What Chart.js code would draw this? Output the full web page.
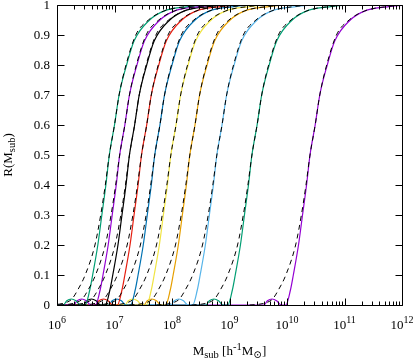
<!DOCTYPE html>
<html>
<head>
<meta charset="utf-8">
<script src="https://cdn.jsdelivr.net/npm/chart.js@4.4.1/dist/chart.umd.min.js"></script>
<style>
html, body { margin: 0; padding: 0; background: #fff; }
canvas { display: block; }
</style>
</head>
<body>
<canvas id="chart" width="415" height="361"></canvas>
<script>
// R levels of the measured curves (solid) and of the fits (dashed)
const solidLevels = [0, 0, 0.014, 0.02, 0.014, 0, 0, 0.05, 0.1, 0.2, 0.3, 0.4, 0.5, 0.6, 0.7, 0.8, 0.88, 0.95, 0.983, 0.994, 1, 1];
const fitLevels = [0, 0.003, 0.01, 0.02, 0.05, 0.1, 0.2, 0.3, 0.4, 0.5, 0.6, 0.7, 0.8, 0.9, 0.95, 0.98, 0.995, 1, 1];

const curveColors = ['#009e73', '#9400d3', '#000000', '#e51e10', '#0072b2', '#f0e442', '#e69f00', '#56b4e9', '#009e73', '#9400d3'];

// log10(M_sub), one row per curve
const solidLogM = [
  [6, 6.11, 6.17, 6.25, 6.33, 6.41, 6.49, 6.57, 6.62, 6.71, 6.78, 6.85, 6.91, 7.00, 7.08, 7.21, 7.34, 7.61, 7.90, 8.25, 8.65, 12.5],
  [6, 6.29, 6.35, 6.43, 6.51, 6.59, 6.67, 6.75, 6.80, 6.89, 6.96, 7.03, 7.09, 7.18, 7.26, 7.39, 7.52, 7.79, 8.08, 8.43, 8.83, 12.5],
  [6, 6.46, 6.52, 6.60, 6.68, 6.76, 6.84, 6.92, 6.97, 7.06, 7.13, 7.20, 7.26, 7.35, 7.43, 7.56, 7.69, 7.96, 8.25, 8.60, 9.00, 12.5],
  [6, 6.67, 6.73, 6.81, 6.89, 6.97, 7.05, 7.13, 7.18, 7.27, 7.34, 7.41, 7.47, 7.56, 7.64, 7.77, 7.90, 8.17, 8.46, 8.81, 9.21, 12.5],
  [6, 6.90, 6.96, 7.04, 7.12, 7.20, 7.28, 7.36, 7.41, 7.50, 7.57, 7.64, 7.70, 7.79, 7.87, 8.00, 8.13, 8.40, 8.69, 9.04, 9.44, 12.5],
  [6, 7.18, 7.24, 7.32, 7.40, 7.48, 7.56, 7.64, 7.69, 7.78, 7.85, 7.92, 7.98, 8.07, 8.15, 8.28, 8.41, 8.68, 8.97, 9.32, 9.72, 12.5],
  [6, 7.51, 7.57, 7.65, 7.73, 7.81, 7.89, 7.97, 8.02, 8.11, 8.18, 8.25, 8.31, 8.40, 8.48, 8.61, 8.74, 9.01, 9.30, 9.65, 10.05, 12.5],
  [6, 7.98, 8.04, 8.12, 8.20, 8.28, 8.36, 8.44, 8.49, 8.58, 8.65, 8.72, 8.78, 8.87, 8.95, 9.08, 9.21, 9.48, 9.77, 10.12, 10.52, 12.5],
  [6, 8.59, 8.65, 8.73, 8.81, 8.89, 8.97, 9.05, 9.10, 9.19, 9.26, 9.33, 9.39, 9.48, 9.56, 9.69, 9.82, 10.09, 10.38, 10.73, 11.13, 12.5],
  [6, 9.60, 9.66, 9.74, 9.82, 9.90, 9.98, 10.06, 10.11, 10.20, 10.27, 10.34, 10.40, 10.49, 10.57, 10.70, 10.83, 11.10, 11.39, 11.74, 12.14, 12.5]
];

const fitLogM = [
  [5.86, 6.04, 6.18, 6.26, 6.36, 6.49, 6.66, 6.76, 6.84, 6.91, 7.00, 7.08, 7.20, 7.37, 7.59, 7.86, 8.26, 8.71, 12.5],
  [6.04, 6.22, 6.36, 6.44, 6.54, 6.67, 6.84, 6.94, 7.02, 7.09, 7.18, 7.26, 7.38, 7.55, 7.77, 8.04, 8.44, 8.89, 12.5],
  [6.21, 6.39, 6.53, 6.61, 6.71, 6.84, 7.01, 7.11, 7.19, 7.26, 7.35, 7.43, 7.55, 7.72, 7.94, 8.21, 8.61, 9.06, 12.5],
  [6.42, 6.60, 6.74, 6.82, 6.92, 7.05, 7.22, 7.32, 7.40, 7.47, 7.56, 7.64, 7.76, 7.93, 8.15, 8.42, 8.82, 9.27, 12.5],
  [6.65, 6.83, 6.97, 7.05, 7.15, 7.28, 7.45, 7.55, 7.63, 7.70, 7.79, 7.87, 7.99, 8.16, 8.38, 8.65, 9.05, 9.50, 12.5],
  [6.93, 7.11, 7.25, 7.33, 7.43, 7.56, 7.73, 7.83, 7.91, 7.98, 8.07, 8.15, 8.27, 8.44, 8.66, 8.93, 9.33, 9.78, 12.5],
  [7.26, 7.44, 7.58, 7.66, 7.76, 7.89, 8.06, 8.16, 8.24, 8.31, 8.40, 8.48, 8.60, 8.77, 8.99, 9.26, 9.66, 10.11, 12.5],
  [7.73, 7.91, 8.05, 8.13, 8.23, 8.36, 8.53, 8.63, 8.71, 8.78, 8.87, 8.95, 9.07, 9.24, 9.46, 9.73, 10.13, 10.58, 12.5],
  [8.34, 8.52, 8.66, 8.74, 8.84, 8.97, 9.14, 9.24, 9.32, 9.39, 9.48, 9.56, 9.68, 9.85, 10.07, 10.34, 10.74, 11.19, 12.5],
  [9.35, 9.53, 9.67, 9.75, 9.85, 9.98, 10.15, 10.25, 10.33, 10.40, 10.49, 10.57, 10.69, 10.86, 11.08, 11.35, 11.75, 12.20, 12.5]
];

const xTickExps = [6, 7, 8, 9, 10, 11, 12];
const yTicks = [0, 0.1, 0.2, 0.3, 0.4, 0.5, 0.6, 0.7, 0.8, 0.9, 1];

const FONT = '"Liberation Serif", "DejaVu Serif", serif';

function toPoints(logs, levels) {
  return logs.map((lm, i) => ({ x: Math.pow(10, lm), y: levels[i] }));
}

const datasets = [];
fitLogM.forEach(row => {
  datasets.push({
    data: toPoints(row, fitLevels),
    borderColor: '#000',
    borderWidth: 1,
    borderDash: [5, 4],
    cubicInterpolationMode: 'monotone',
    order: 0
  });
});
solidLogM.forEach((row, i) => {
  datasets.push({
    data: toPoints(row, solidLevels),
    borderColor: curveColors[i],
    borderWidth: 1.2,
    cubicInterpolationMode: 'monotone',
    order: 1
  });
});

// draws text pieces [text, size, baseline shift] one after another
function runsWidth(ctx, runs) {
  let w = 0;
  runs.forEach(r => { ctx.font = r[1] + 'px ' + FONT; w += ctx.measureText(r[0]).width; });
  return w;
}
function drawRuns(ctx, runs, x, y) {
  runs.forEach(r => {
    ctx.font = r[1] + 'px ' + FONT;
    ctx.fillText(r[0], x, y + r[2]);
    x += ctx.measureText(r[0]).width;
  });
}

const frame = {
  id: 'frame',
  afterDraw(chart) {
    const { ctx, chartArea: a, scales: { x, y } } = chart;
    const L = Math.round(a.left) + 0.5, R = Math.round(a.right) + 0.5;
    const T = Math.round(a.top) + 0.5, B = Math.round(a.bottom) + 0.5;
    ctx.save();
    ctx.strokeStyle = '#000';
    ctx.lineWidth = 1;
    ctx.beginPath();
    ctx.rect(L, T, R - L, B - T);
    yTicks.forEach(v => {
      const py = Math.round(y.getPixelForValue(v)) + 0.5;
      ctx.moveTo(L, py); ctx.lineTo(L + 7, py);
      ctx.moveTo(R, py); ctx.lineTo(R - 7, py);
    });
    xTickExps.forEach((e, i) => {
      for (let m = 1; m < 10; m++) {
        if (m > 1 && i === xTickExps.length - 1) break;
        const px = Math.round(x.getPixelForValue(m * Math.pow(10, e))) + 0.5;
        const len = m === 1 ? 7 : 4;
        ctx.moveTo(px, B); ctx.lineTo(px, B - len);
        ctx.moveTo(px, T); ctx.lineTo(px, T + len);
      }
    });
    ctx.stroke();

    ctx.fillStyle = '#000';
    // y tick labels
    ctx.font = '13px ' + FONT;
    ctx.textAlign = 'right';
    ctx.textBaseline = 'middle';
    yTicks.forEach(v => {
      const txt = (v === 0 || v === 1) ? String(v) : v.toFixed(1);
      ctx.fillText(txt, a.left - 7, y.getPixelForValue(v) + 1);
    });

    // x tick labels 10^n
    ctx.textAlign = 'left';
    ctx.textBaseline = 'alphabetic';
    xTickExps.forEach(e => {
      const runs = [['10', 13, 0], [String(e), 10, -6]];
      const w = runsWidth(ctx, runs);
      drawRuns(ctx, runs, x.getPixelForValue(Math.pow(10, e)) - w / 2, a.bottom + 24);
    });

    // x title
    const xt = [['M', 13, 0], ['sub', 10.5, 3], [' [h', 13, 0], ['-1', 10.5, -5], ['M', 13, 0], ['\u2299', 10.5, 3], [']', 13, 0]];
    const xw = runsWidth(ctx, xt);
    drawRuns(ctx, xt, (a.left + a.right) / 2 - xw / 2, a.bottom + 50);

    // y title
    const yt = [['R(M', 13, 0], ['sub', 10.5, 3], [')', 13, 0]];
    const yw = runsWidth(ctx, yt);
    ctx.translate(12, (a.top + a.bottom) / 2);
    ctx.rotate(-Math.PI / 2);
    drawRuns(ctx, yt, -yw / 2, 0);
    ctx.restore();
  }
};

new Chart(document.getElementById('chart'), {
  type: 'line',
  data: { datasets: datasets },
  options: {
    responsive: false,
    animation: false,
    layout: { padding: { left: 57, right: 13, top: 5, bottom: 56 } },
    elements: { point: { radius: 0 } },
    plugins: { legend: { display: false }, tooltip: { enabled: false } },
    scales: {
      x: { type: 'logarithmic', min: 1e6, max: 1e12, display: false },
      y: { type: 'linear', min: 0, max: 1, display: false }
    }
  },
  plugins: [frame]
});
</script>
</body>
</html>
